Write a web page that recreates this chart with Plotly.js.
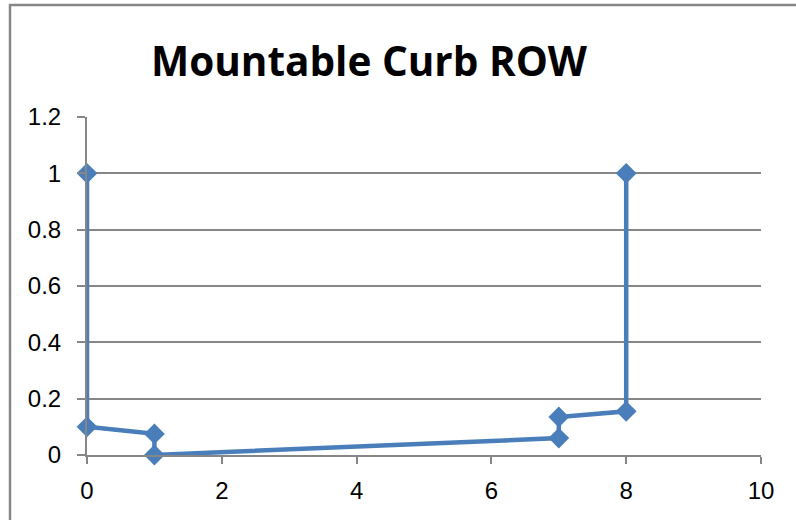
<!DOCTYPE html>
<html>
<head>
<meta charset="utf-8">
<script src="https://cdn.plot.ly/plotly-3.0.1.min.js"></script>
<style>
html,body{margin:0;padding:0;background:#fff;}
#chart{width:796px;height:520px;}
</style>
</head>
<body>
<div id="chart"></div>
<script>
const xValues = [0, 0, 1, 1, 7, 7, 8, 8];
const yValues = [1, 0.1, 0.075, 0, 0.06, 0.135, 0.155, 1];
const xTicks = [0, 2, 4, 6, 8, 10];
const yTicks = [0, 0.2, 0.4, 0.6, 0.8, 1, 1.2];
const yTickText = ["0", "0.2", "0.4", "0.6", "0.8", "1", "1.2"];
const chartTitle = "Mountable Curb ROW";

const trace = {
  x: xValues, y: yValues, type: 'scatter', mode: 'lines+markers',
  line: {color: '#4A7EBB', width: 4.5},
  marker: {symbol: 'diamond', size: 16, color: '#4A7EBB'},
  cliponaxis: false, showlegend: false
};

const L = 87, R = 35, T = 117, B = 65;
const pw = 796 - L - R, ph = 520 - T - B;

const layout = {
  width: 796, height: 520,
  margin: {l: L, r: R, t: T, b: B, pad: 0},
  paper_bgcolor: '#fff', plot_bgcolor: '#fff',
  font: {family: 'Liberation Sans, Arial, sans-serif', size: 24, color: '#000'},
  title: {text: '<b>' + chartTitle + '</b>', font: {family: 'Open Sans, sans-serif', size: 40.5, color: '#000'},
          x: 369/796, xanchor: 'center', y: 1 - 62/520, yanchor: 'middle', xref: 'container', yref: 'container'},
  xaxis: {range: [0, 10], tickvals: xTicks, ticktext: xTicks.map(String), showgrid: false, zeroline: false,
          showline: true, linecolor: '#868686', linewidth: 2, ticks: 'outside', ticklen: 7, tickwidth: 2,
          tickcolor: '#868686', tickfont: {size: 24}, ticklabelstandoff: 6, fixedrange: true},
  yaxis: {range: [0, 1.2], tickvals: yTicks, ticktext: yTickText, showgrid: true, gridcolor: '#868686', gridwidth: 2,
          zeroline: false, showline: true, linecolor: '#868686', linewidth: 2, ticks: 'outside', ticklen: 8,
          tickwidth: 2, tickcolor: '#868686', tickfont: {size: 24}, ticklabelstandoff: 11, fixedrange: true},
  shapes: [{
    type: 'rect', xref: 'paper', yref: 'paper',
    x0: (10 - L) / pw, x1: (820 - L) / pw,
    y0: -(60 + B) / ph, y1: (520 - B - 5) / ph,
    line: {color: '#868686', width: 2.5}, fillcolor: 'rgba(0,0,0,0)', layer: 'below'
  }]
};

Plotly.newPlot('chart', [trace], layout, {staticPlot: true, displayModeBar: false});
</script>
</body>
</html>
